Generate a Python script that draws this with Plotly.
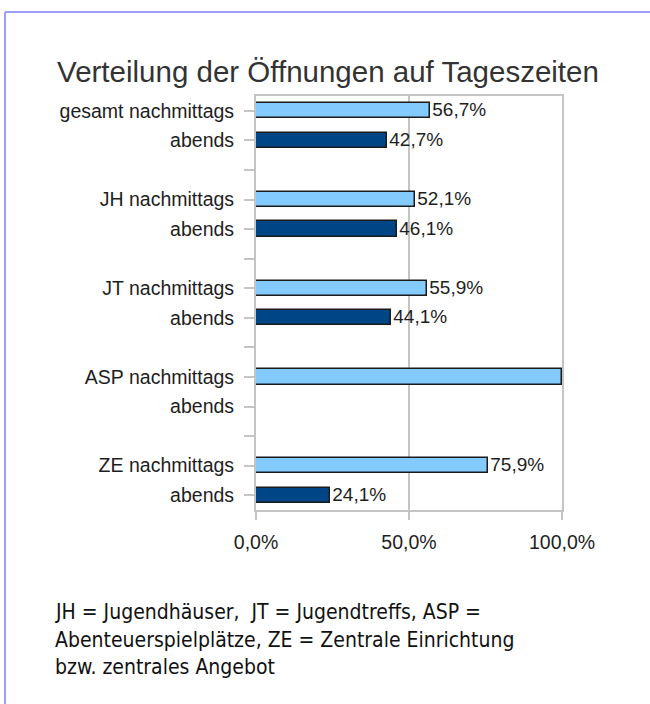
import plotly.graph_objects as go

# ---- data ----
groups = ["gesamt", "JH", "JT", "ASP", "ZE"]
nachmittags = [56.7, 52.1, 55.9, 100.0, 75.9]
abends = [42.7, 46.1, 44.1, 0.0, 24.1]
show_label_n = [True, True, True, False, True]
show_label_a = [True, True, True, False, True]
x_tickvals = [0, 50, 100]
x_ticktext = ["0,0%", "50,0%", "100,0%"]
title_text = "Verteilung der Öffnungen auf Tageszeiten"
footnote_lines = [
    "JH = Jugendhäuser,  JT = Jugendtreffs, ASP =",
    "Abenteuerspielplätze, ZE = Zentrale Einrichtung",
    "bzw. zentrales Angebot",
]

W, H = 650, 704

def fmt(v, show):
    return (f"{v:.1f}%".replace(".", ",")) if show else ""

n_pos = [3 * i for i in range(len(groups))]
a_pos = [3 * i + 1 for i in range(len(groups))]
n_slots = 3 * len(groups) - 1
tickvals = list(range(n_slots))
ticktext = []
for s in range(n_slots):
    if s % 3 == 0:
        ticktext.append(f"{groups[s // 3]} nachmittags")
    elif s % 3 == 1:
        ticktext.append("abends")
    else:
        ticktext.append("")

lab_font = dict(family="Liberation Sans, Arial, sans-serif", size=19.5, color="#1e1e1e")
val_font = dict(family="Liberation Sans, Arial, sans-serif", size=19, color="#1e1e1e")

fig = go.Figure()
fig.add_trace(go.Bar(
    y=n_pos, x=nachmittags, orientation="h", width=0.52,
    marker=dict(color="#83caff", line=dict(color="#1a1a1a", width=1.5)),
    text=[fmt(v, s) for v, s in zip(nachmittags, show_label_n)],
    textposition="outside", textfont=val_font, cliponaxis=False, constraintext="none",
    name="nachmittags", showlegend=False,
))
fig.add_trace(go.Bar(
    y=a_pos, x=abends, orientation="h", width=0.52,
    marker=dict(color="#004586", line=dict(color="#1a1a1a", width=1.5)),
    text=[fmt(v, s) for v, s in zip(abends, show_label_a)],
    textposition="outside", textfont=val_font, cliponaxis=False, constraintext="none",
    name="abends", showlegend=False,
))

x0, x1 = 256 / W, 562 / W
y_top, y_bot = 96, 510

fig.update_layout(
    width=W, height=H,
    margin=dict(l=0, r=0, t=0, b=0, autoexpand=False),
    paper_bgcolor="white", plot_bgcolor="white",
    barmode="overlay", showlegend=False,
    title=dict(text=title_text, x=328 / W, xanchor="center",
               y=1 - 72 / H, yanchor="middle", yref="container",
               font=dict(family="Liberation Sans, Arial, sans-serif", size=29.5, color="#333333")),
    xaxis=dict(
        domain=[x0, x1], range=[0, 100], tickvals=x_tickvals, ticktext=x_ticktext,
        showgrid=True, gridcolor="#c4c4c4", gridwidth=2,
        showline=True, linecolor="#c4c4c4", linewidth=2, mirror=True,
        ticks="outside", ticklen=8, tickcolor="#c4c4c4", tickwidth=2,
        tickfont=lab_font, ticklabelstandoff=6, zeroline=False, fixedrange=True,
        automargin=False,
    ),
    yaxis=dict(
        domain=[1 - y_bot / H, 1 - y_top / H], range=[n_slots - 0.5, -0.5],
        tickvals=tickvals, ticktext=ticktext,
        showgrid=False, showline=True, linecolor="#c4c4c4", linewidth=2, mirror=True,
        ticks="outside", ticklen=10, tickcolor="#c4c4c4", tickwidth=2,
        tickfont=lab_font, ticklabelstandoff=6, zeroline=False, fixedrange=True,
        automargin=False,
    ),
    bargap=0,
)

# frame lines (light purple-blue)
fig.add_shape(type="line", xref="paper", yref="paper", x0=5 / W, x1=1, y0=1 - 12 / H, y1=1 - 12 / H,
              line=dict(color="#9d9dfa", width=2))
fig.add_shape(type="line", xref="paper", yref="paper", x0=5 / W, x1=5 / W, y0=0, y1=1 - 12 / H,
              line=dict(color="#9d9dfa", width=2))

line_y = [612, 640, 667]
for txt, yy in zip(footnote_lines, line_y):
    fig.add_annotation(text=txt, xref="paper", yref="paper", x=53 / W, y=1 - yy / H,
                       xanchor="left", yanchor="middle", showarrow=False, align="left",
                       font=dict(family="DejaVu Sans Condensed, DejaVu Sans, sans-serif", size=21, color="#111111"))

fig.write_html("out.html")
